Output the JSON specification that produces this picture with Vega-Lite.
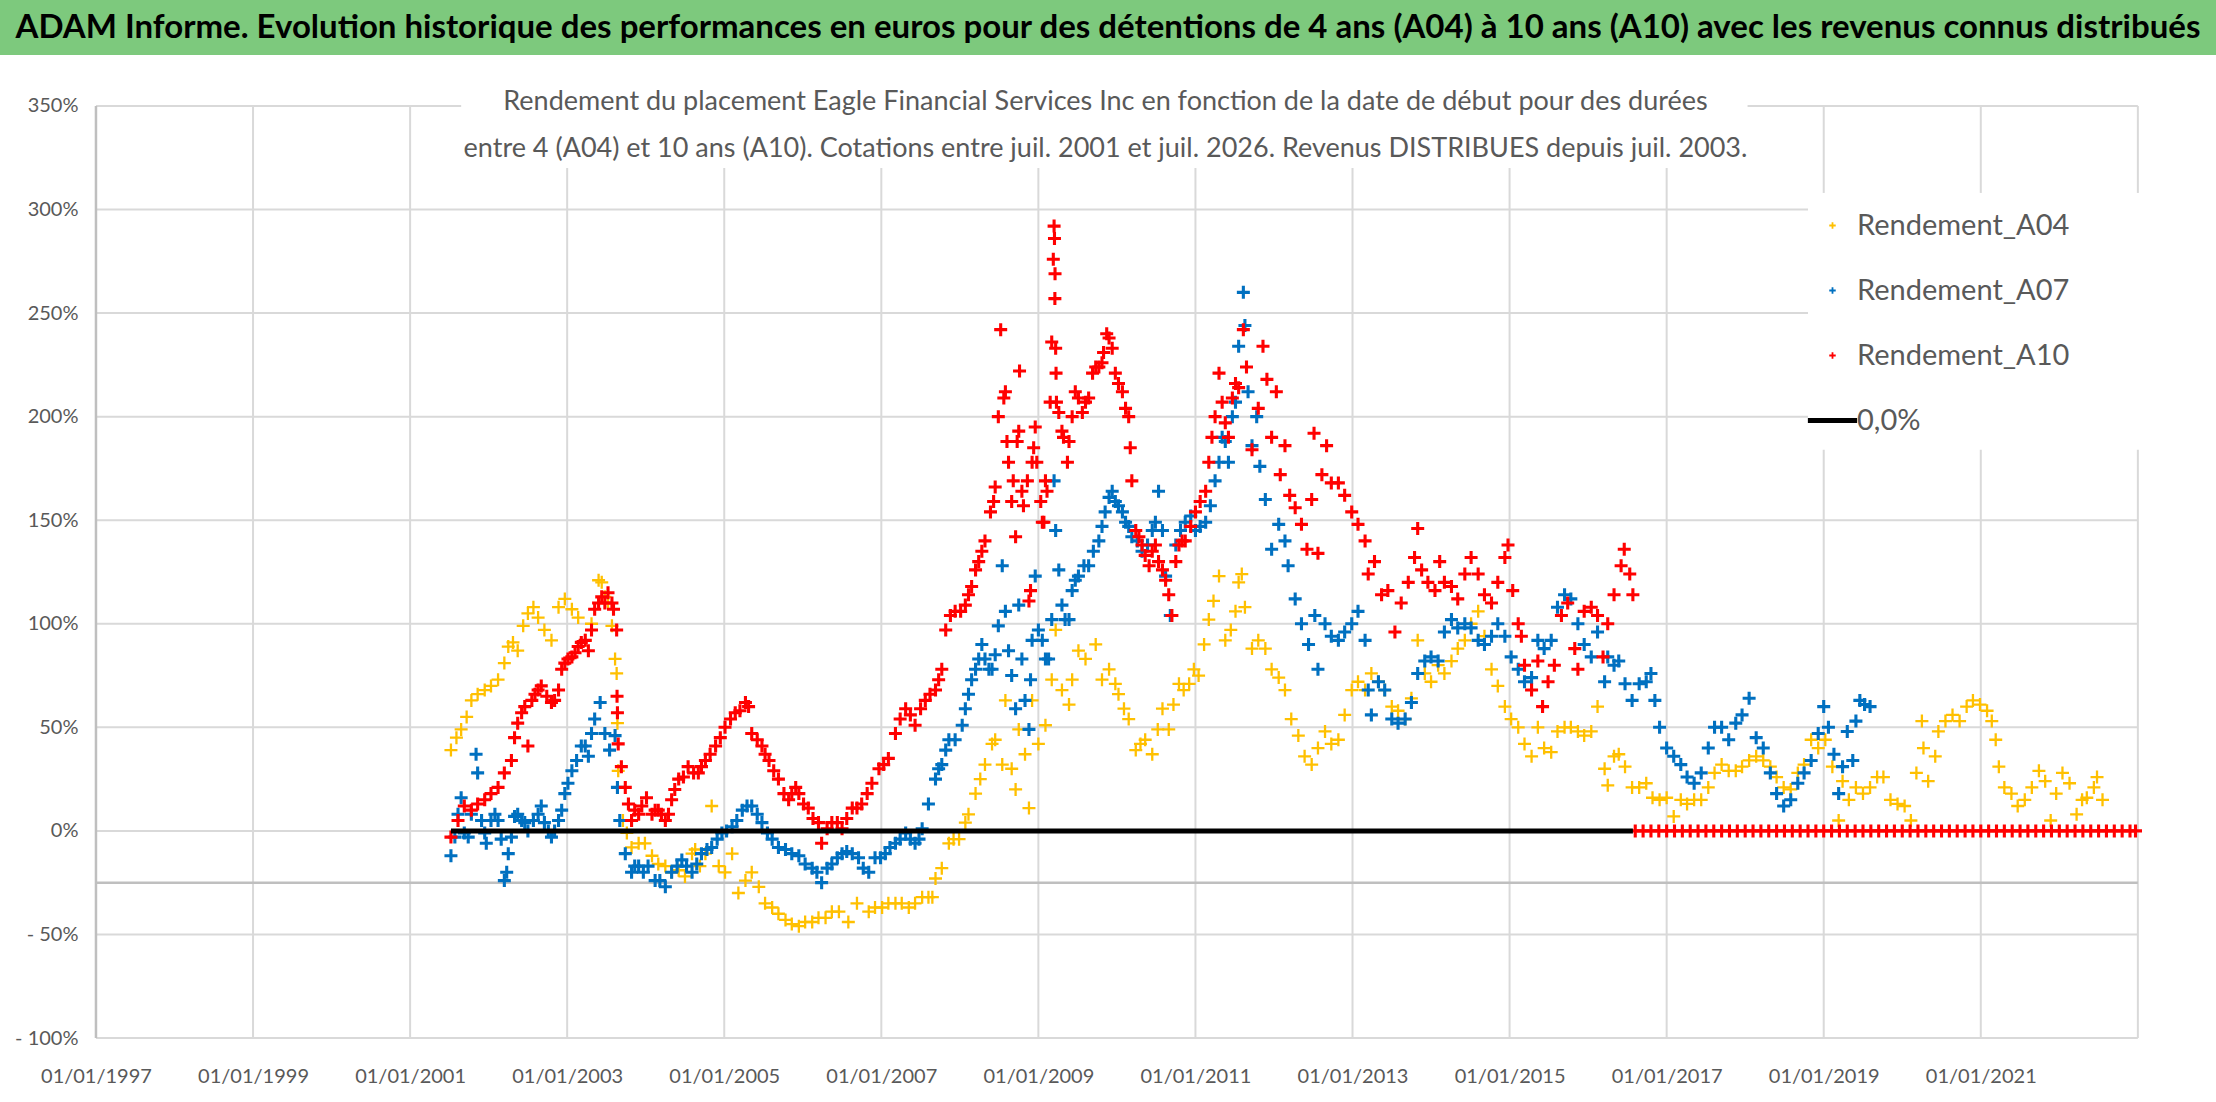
{
  "$schema": "https://vega.github.io/schema/vega-lite/v6.json",
  "background": "white",
  "padding": 0,
  "spacing": 0,
  "config": {"font": "Lato", "view": {"stroke": null}},
  "datasets": {
    "grille_h": [
      {"annee": 1997, "annee2": 2023, "rendement": -100}, {"annee": 1997, "annee2": 2023, "rendement": -50},
      {"annee": 1997, "annee2": 2023, "rendement": 0}, {"annee": 1997, "annee2": 2023, "rendement": 50},
      {"annee": 1997, "annee2": 2023, "rendement": 100}, {"annee": 1997, "annee2": 2023, "rendement": 150},
      {"annee": 1997, "annee2": 2018.8, "rendement": 200}, {"annee": 1997, "annee2": 2018.8, "rendement": 250},
      {"annee": 1997, "annee2": 2018.8, "rendement": 300},
      {"annee": 1997, "annee2": 2001.65, "rendement": 350}, {"annee": 2018.03, "annee2": 2023, "rendement": 350}
    ],
    "grille_v": [
      {"annee": 1999, "rendement": -100, "rendement2": 350}, {"annee": 2001, "rendement": -100, "rendement2": 350},
      {"annee": 2003, "rendement": -100, "rendement2": 320}, {"annee": 2005, "rendement": -100, "rendement2": 320},
      {"annee": 2007, "rendement": -100, "rendement2": 320}, {"annee": 2009, "rendement": -100, "rendement2": 320},
      {"annee": 2011, "rendement": -100, "rendement2": 320}, {"annee": 2013, "rendement": -100, "rendement2": 320},
      {"annee": 2015, "rendement": -100, "rendement2": 320}, {"annee": 2017, "rendement": -100, "rendement2": 320},
      {"annee": 2019, "rendement": -100, "rendement2": 184}, {"annee": 2019, "rendement": 308, "rendement2": 350},
      {"annee": 2021, "rendement": -100, "rendement2": 184}, {"annee": 2021, "rendement": 308, "rendement2": 350},
      {"annee": 2023, "rendement": -100, "rendement2": 184}, {"annee": 2023, "rendement": 308, "rendement2": 350}
    ],
    "axe_v": [{"annee": 1997, "rendement": -100, "rendement2": 350}],
    "axe_h": [{"annee": 1997, "annee2": 2023, "rendement": -25}],
    "zero": [{"annee": 2001.52, "rendement": 0}, {"annee": 2016.57, "rendement": 0}],
    "a04": [
      {"annee": 2001.52, "rendement": 39}, {"annee": 2001.59, "rendement": 45}, {"annee": 2001.65, "rendement": 49}, {"annee": 2001.72, "rendement": 55},
      {"annee": 2001.78, "rendement": 63}, {"annee": 2001.86, "rendement": 66}, {"annee": 2001.95, "rendement": 68}, {"annee": 2002.03, "rendement": 70},
      {"annee": 2002.12, "rendement": 73}, {"annee": 2002.2, "rendement": 81}, {"annee": 2002.25, "rendement": 89}, {"annee": 2002.31, "rendement": 91},
      {"annee": 2002.37, "rendement": 87}, {"annee": 2002.44, "rendement": 99}, {"annee": 2002.5, "rendement": 105}, {"annee": 2002.57, "rendement": 108},
      {"annee": 2002.63, "rendement": 103}, {"annee": 2002.71, "rendement": 97}, {"annee": 2002.8, "rendement": 92}, {"annee": 2002.89, "rendement": 108},
      {"annee": 2002.97, "rendement": 112}, {"annee": 2003.06, "rendement": 107}, {"annee": 2003.14, "rendement": 103}, {"annee": 2003.23, "rendement": 92},
      {"annee": 2003.31, "rendement": 100}, {"annee": 2003.4, "rendement": 121}, {"annee": 2003.44, "rendement": 120}, {"annee": 2003.48, "rendement": 113},
      {"annee": 2003.52, "rendement": 110}, {"annee": 2003.57, "rendement": 99}, {"annee": 2003.61, "rendement": 83}, {"annee": 2003.63, "rendement": 76},
      {"annee": 2003.64, "rendement": 52}, {"annee": 2003.65, "rendement": 29}, {"annee": 2003.71, "rendement": 5}, {"annee": 2003.76, "rendement": -1},
      {"annee": 2003.82, "rendement": -8}, {"annee": 2003.91, "rendement": -6}, {"annee": 2003.99, "rendement": -6}, {"annee": 2004.08, "rendement": -12},
      {"annee": 2004.16, "rendement": -16}, {"annee": 2004.25, "rendement": -17}, {"annee": 2004.33, "rendement": -20}, {"annee": 2004.42, "rendement": -19},
      {"annee": 2004.5, "rendement": -22}, {"annee": 2004.59, "rendement": -11}, {"annee": 2004.63, "rendement": -9}, {"annee": 2004.69, "rendement": -17},
      {"annee": 2004.76, "rendement": -11}, {"annee": 2004.84, "rendement": 12}, {"annee": 2004.93, "rendement": -17}, {"annee": 2005.01, "rendement": -20},
      {"annee": 2005.1, "rendement": -11}, {"annee": 2005.18, "rendement": -30}, {"annee": 2005.27, "rendement": -24}, {"annee": 2005.35, "rendement": -20},
      {"annee": 2005.44, "rendement": -27}, {"annee": 2005.52, "rendement": -35}, {"annee": 2005.61, "rendement": -37}, {"annee": 2005.69, "rendement": -40},
      {"annee": 2005.78, "rendement": -43}, {"annee": 2005.86, "rendement": -45}, {"annee": 2005.95, "rendement": -46}, {"annee": 2006.03, "rendement": -44},
      {"annee": 2006.12, "rendement": -44}, {"annee": 2006.2, "rendement": -42}, {"annee": 2006.29, "rendement": -42}, {"annee": 2006.37, "rendement": -39},
      {"annee": 2006.46, "rendement": -39}, {"annee": 2006.58, "rendement": -44}, {"annee": 2006.69, "rendement": -35}, {"annee": 2006.84, "rendement": -39},
      {"annee": 2006.92, "rendement": -37}, {"annee": 2007.01, "rendement": -37}, {"annee": 2007.09, "rendement": -35}, {"annee": 2007.18, "rendement": -35},
      {"annee": 2007.26, "rendement": -35}, {"annee": 2007.35, "rendement": -37}, {"annee": 2007.43, "rendement": -35}, {"annee": 2007.52, "rendement": -32},
      {"annee": 2007.6, "rendement": -32}, {"annee": 2007.65, "rendement": -32}, {"annee": 2007.69, "rendement": -23}, {"annee": 2007.77, "rendement": -18},
      {"annee": 2007.86, "rendement": -6}, {"annee": 2007.92, "rendement": -4}, {"annee": 2007.99, "rendement": -4}, {"annee": 2008.07, "rendement": 4},
      {"annee": 2008.11, "rendement": 8}, {"annee": 2008.2, "rendement": 18}, {"annee": 2008.26, "rendement": 25}, {"annee": 2008.32, "rendement": 32},
      {"annee": 2008.41, "rendement": 42}, {"annee": 2008.45, "rendement": 44}, {"annee": 2008.54, "rendement": 32}, {"annee": 2008.58, "rendement": 63},
      {"annee": 2008.66, "rendement": 30}, {"annee": 2008.71, "rendement": 20}, {"annee": 2008.75, "rendement": 49}, {"annee": 2008.83, "rendement": 37},
      {"annee": 2008.88, "rendement": 11}, {"annee": 2008.92, "rendement": 63}, {"annee": 2009.0, "rendement": 42}, {"annee": 2009.09, "rendement": 51},
      {"annee": 2009.17, "rendement": 73}, {"annee": 2009.22, "rendement": 97}, {"annee": 2009.3, "rendement": 68}, {"annee": 2009.39, "rendement": 61},
      {"annee": 2009.43, "rendement": 73}, {"annee": 2009.51, "rendement": 87}, {"annee": 2009.6, "rendement": 83}, {"annee": 2009.73, "rendement": 90},
      {"annee": 2009.81, "rendement": 73}, {"annee": 2009.9, "rendement": 78}, {"annee": 2009.98, "rendement": 71}, {"annee": 2010.02, "rendement": 66},
      {"annee": 2010.09, "rendement": 59}, {"annee": 2010.15, "rendement": 54}, {"annee": 2010.24, "rendement": 39}, {"annee": 2010.3, "rendement": 42},
      {"annee": 2010.36, "rendement": 44}, {"annee": 2010.45, "rendement": 37}, {"annee": 2010.52, "rendement": 49}, {"annee": 2010.58, "rendement": 59},
      {"annee": 2010.66, "rendement": 49}, {"annee": 2010.72, "rendement": 61}, {"annee": 2010.79, "rendement": 71}, {"annee": 2010.85, "rendement": 68},
      {"annee": 2010.92, "rendement": 71}, {"annee": 2010.98, "rendement": 78}, {"annee": 2011.04, "rendement": 75}, {"annee": 2011.11, "rendement": 90},
      {"annee": 2011.17, "rendement": 102}, {"annee": 2011.23, "rendement": 111}, {"annee": 2011.3, "rendement": 123}, {"annee": 2011.38, "rendement": 92},
      {"annee": 2011.45, "rendement": 97}, {"annee": 2011.51, "rendement": 106}, {"annee": 2011.55, "rendement": 120}, {"annee": 2011.59, "rendement": 124},
      {"annee": 2011.63, "rendement": 108}, {"annee": 2011.72, "rendement": 88}, {"annee": 2011.8, "rendement": 92}, {"annee": 2011.89, "rendement": 88},
      {"annee": 2011.97, "rendement": 78}, {"annee": 2012.06, "rendement": 74}, {"annee": 2012.14, "rendement": 68}, {"annee": 2012.22, "rendement": 54},
      {"annee": 2012.31, "rendement": 46}, {"annee": 2012.39, "rendement": 36}, {"annee": 2012.48, "rendement": 32}, {"annee": 2012.56, "rendement": 40},
      {"annee": 2012.65, "rendement": 48}, {"annee": 2012.73, "rendement": 42}, {"annee": 2012.82, "rendement": 44}, {"annee": 2012.9, "rendement": 56},
      {"annee": 2012.99, "rendement": 68}, {"annee": 2013.07, "rendement": 72}, {"annee": 2013.16, "rendement": 68}, {"annee": 2013.24, "rendement": 76},
      {"annee": 2013.33, "rendement": 72}, {"annee": 2013.41, "rendement": 68}, {"annee": 2013.5, "rendement": 60}, {"annee": 2013.58, "rendement": 58},
      {"annee": 2013.67, "rendement": 54}, {"annee": 2013.75, "rendement": 64}, {"annee": 2013.83, "rendement": 92}, {"annee": 2013.92, "rendement": 76},
      {"annee": 2014.0, "rendement": 72}, {"annee": 2014.09, "rendement": 80}, {"annee": 2014.17, "rendement": 76}, {"annee": 2014.26, "rendement": 82},
      {"annee": 2014.34, "rendement": 88}, {"annee": 2014.43, "rendement": 92}, {"annee": 2014.51, "rendement": 100}, {"annee": 2014.6, "rendement": 106},
      {"annee": 2014.68, "rendement": 94}, {"annee": 2014.77, "rendement": 78}, {"annee": 2014.85, "rendement": 70}, {"annee": 2014.94, "rendement": 60},
      {"annee": 2015.02, "rendement": 54}, {"annee": 2015.11, "rendement": 50}, {"annee": 2015.19, "rendement": 42}, {"annee": 2015.28, "rendement": 36},
      {"annee": 2015.36, "rendement": 50}, {"annee": 2015.44, "rendement": 40}, {"annee": 2015.53, "rendement": 38}, {"annee": 2015.61, "rendement": 48},
      {"annee": 2015.7, "rendement": 50}, {"annee": 2015.78, "rendement": 50}, {"annee": 2015.87, "rendement": 48}, {"annee": 2015.95, "rendement": 46},
      {"annee": 2016.04, "rendement": 48}, {"annee": 2016.12, "rendement": 60}, {"annee": 2016.21, "rendement": 30}, {"annee": 2016.25, "rendement": 22},
      {"annee": 2016.33, "rendement": 36}, {"annee": 2016.39, "rendement": 37}, {"annee": 2016.47, "rendement": 31}, {"annee": 2016.56, "rendement": 21},
      {"annee": 2016.65, "rendement": 21}, {"annee": 2016.74, "rendement": 23}, {"annee": 2016.82, "rendement": 16}, {"annee": 2016.91, "rendement": 15},
      {"annee": 2017.0, "rendement": 16}, {"annee": 2017.09, "rendement": 7}, {"annee": 2017.18, "rendement": 15}, {"annee": 2017.26, "rendement": 13},
      {"annee": 2017.35, "rendement": 15}, {"annee": 2017.44, "rendement": 15}, {"annee": 2017.53, "rendement": 21}, {"annee": 2017.61, "rendement": 28},
      {"annee": 2017.7, "rendement": 32}, {"annee": 2017.79, "rendement": 29}, {"annee": 2017.88, "rendement": 29}, {"annee": 2017.96, "rendement": 31},
      {"annee": 2018.05, "rendement": 34}, {"annee": 2018.14, "rendement": 36}, {"annee": 2018.23, "rendement": 34}, {"annee": 2018.32, "rendement": 31},
      {"annee": 2018.4, "rendement": 26}, {"annee": 2018.49, "rendement": 21}, {"annee": 2018.58, "rendement": 20}, {"annee": 2018.67, "rendement": 28},
      {"annee": 2018.75, "rendement": 32}, {"annee": 2018.84, "rendement": 44}, {"annee": 2018.93, "rendement": 40}, {"annee": 2019.02, "rendement": 44},
      {"annee": 2019.11, "rendement": 31}, {"annee": 2019.19, "rendement": 5}, {"annee": 2019.24, "rendement": 24}, {"annee": 2019.32, "rendement": 15},
      {"annee": 2019.41, "rendement": 21}, {"annee": 2019.5, "rendement": 18}, {"annee": 2019.59, "rendement": 21}, {"annee": 2019.68, "rendement": 26},
      {"annee": 2019.76, "rendement": 26}, {"annee": 2019.85, "rendement": 15}, {"annee": 2019.94, "rendement": 13}, {"annee": 2020.03, "rendement": 12},
      {"annee": 2020.11, "rendement": 5}, {"annee": 2020.18, "rendement": 28}, {"annee": 2020.25, "rendement": 53}, {"annee": 2020.27, "rendement": 40},
      {"annee": 2020.33, "rendement": 24}, {"annee": 2020.42, "rendement": 36}, {"annee": 2020.46, "rendement": 48}, {"annee": 2020.55, "rendement": 53},
      {"annee": 2020.64, "rendement": 56}, {"annee": 2020.73, "rendement": 53}, {"annee": 2020.82, "rendement": 60}, {"annee": 2020.9, "rendement": 63},
      {"annee": 2020.99, "rendement": 61}, {"annee": 2021.08, "rendement": 58}, {"annee": 2021.14, "rendement": 53}, {"annee": 2021.19, "rendement": 44},
      {"annee": 2021.23, "rendement": 31}, {"annee": 2021.3, "rendement": 21}, {"annee": 2021.39, "rendement": 18}, {"annee": 2021.47, "rendement": 12},
      {"annee": 2021.56, "rendement": 15}, {"annee": 2021.65, "rendement": 21}, {"annee": 2021.74, "rendement": 29}, {"annee": 2021.82, "rendement": 24},
      {"annee": 2021.89, "rendement": 5}, {"annee": 2021.96, "rendement": 18}, {"annee": 2022.04, "rendement": 28}, {"annee": 2022.13, "rendement": 23},
      {"annee": 2022.22, "rendement": 8}, {"annee": 2022.29, "rendement": 15}, {"annee": 2022.35, "rendement": 16}, {"annee": 2022.44, "rendement": 21},
      {"annee": 2022.48, "rendement": 26}, {"annee": 2022.55, "rendement": 15}
    ],
    "a07": [
      {"annee": 2001.52, "rendement": -12}, {"annee": 2001.57, "rendement": -3}, {"annee": 2001.61, "rendement": 8}, {"annee": 2001.65, "rendement": 16},
      {"annee": 2001.69, "rendement": -1}, {"annee": 2001.74, "rendement": -3}, {"annee": 2001.78, "rendement": 8}, {"annee": 2001.84, "rendement": 37},
      {"annee": 2001.86, "rendement": 28}, {"annee": 2001.91, "rendement": 5}, {"annee": 2001.95, "rendement": -1}, {"annee": 2001.97, "rendement": -6},
      {"annee": 2002.03, "rendement": 5}, {"annee": 2002.08, "rendement": 8}, {"annee": 2002.12, "rendement": 5}, {"annee": 2002.16, "rendement": -4},
      {"annee": 2002.2, "rendement": -24}, {"annee": 2002.23, "rendement": -20}, {"annee": 2002.25, "rendement": -11}, {"annee": 2002.29, "rendement": -3},
      {"annee": 2002.33, "rendement": 7}, {"annee": 2002.37, "rendement": 8}, {"annee": 2002.42, "rendement": 5}, {"annee": 2002.46, "rendement": 4},
      {"annee": 2002.5, "rendement": 0}, {"annee": 2002.57, "rendement": 5}, {"annee": 2002.63, "rendement": 8}, {"annee": 2002.67, "rendement": 12},
      {"annee": 2002.71, "rendement": 4}, {"annee": 2002.76, "rendement": 0}, {"annee": 2002.8, "rendement": -3}, {"annee": 2002.84, "rendement": 0},
      {"annee": 2002.89, "rendement": 5}, {"annee": 2002.93, "rendement": 10}, {"annee": 2002.97, "rendement": 18}, {"annee": 2003.01, "rendement": 23},
      {"annee": 2003.06, "rendement": 29}, {"annee": 2003.12, "rendement": 34}, {"annee": 2003.18, "rendement": 41}, {"annee": 2003.23, "rendement": 41},
      {"annee": 2003.27, "rendement": 36}, {"annee": 2003.31, "rendement": 47}, {"annee": 2003.35, "rendement": 54}, {"annee": 2003.42, "rendement": 62},
      {"annee": 2003.48, "rendement": 47}, {"annee": 2003.54, "rendement": 39}, {"annee": 2003.61, "rendement": 46}, {"annee": 2003.64, "rendement": 21},
      {"annee": 2003.67, "rendement": 5}, {"annee": 2003.74, "rendement": -11}, {"annee": 2003.82, "rendement": -20}, {"annee": 2003.86, "rendement": -17},
      {"annee": 2003.91, "rendement": -17}, {"annee": 2003.97, "rendement": -20}, {"annee": 2004.03, "rendement": -17}, {"annee": 2004.12, "rendement": -24},
      {"annee": 2004.18, "rendement": -24}, {"annee": 2004.25, "rendement": -27}, {"annee": 2004.33, "rendement": -20}, {"annee": 2004.4, "rendement": -17},
      {"annee": 2004.46, "rendement": -14}, {"annee": 2004.52, "rendement": -17}, {"annee": 2004.59, "rendement": -20}, {"annee": 2004.65, "rendement": -16},
      {"annee": 2004.71, "rendement": -11}, {"annee": 2004.78, "rendement": -9}, {"annee": 2004.84, "rendement": -8}, {"annee": 2004.91, "rendement": -4},
      {"annee": 2004.97, "rendement": -1}, {"annee": 2005.03, "rendement": 0}, {"annee": 2005.1, "rendement": 2}, {"annee": 2005.16, "rendement": 5},
      {"annee": 2005.23, "rendement": 10}, {"annee": 2005.29, "rendement": 12}, {"annee": 2005.35, "rendement": 12}, {"annee": 2005.42, "rendement": 8},
      {"annee": 2005.48, "rendement": 4}, {"annee": 2005.55, "rendement": -1}, {"annee": 2005.61, "rendement": -4}, {"annee": 2005.69, "rendement": -8},
      {"annee": 2005.78, "rendement": -9}, {"annee": 2005.86, "rendement": -11}, {"annee": 2005.95, "rendement": -12}, {"annee": 2006.03, "rendement": -16},
      {"annee": 2006.12, "rendement": -18}, {"annee": 2006.18, "rendement": -20}, {"annee": 2006.24, "rendement": -25}, {"annee": 2006.31, "rendement": -18},
      {"annee": 2006.37, "rendement": -16}, {"annee": 2006.44, "rendement": -13}, {"annee": 2006.5, "rendement": -11}, {"annee": 2006.56, "rendement": -10},
      {"annee": 2006.63, "rendement": -11}, {"annee": 2006.71, "rendement": -13}, {"annee": 2006.77, "rendement": -18}, {"annee": 2006.84, "rendement": -20},
      {"annee": 2006.92, "rendement": -13}, {"annee": 2006.99, "rendement": -13}, {"annee": 2007.05, "rendement": -11}, {"annee": 2007.11, "rendement": -8},
      {"annee": 2007.18, "rendement": -6}, {"annee": 2007.24, "rendement": -4}, {"annee": 2007.31, "rendement": -1}, {"annee": 2007.37, "rendement": -4},
      {"annee": 2007.43, "rendement": -6}, {"annee": 2007.48, "rendement": -4}, {"annee": 2007.52, "rendement": 1}, {"annee": 2007.6, "rendement": 13},
      {"annee": 2007.69, "rendement": 25}, {"annee": 2007.73, "rendement": 30}, {"annee": 2007.77, "rendement": 32}, {"annee": 2007.82, "rendement": 39},
      {"annee": 2007.86, "rendement": 44}, {"annee": 2007.94, "rendement": 44}, {"annee": 2008.03, "rendement": 51}, {"annee": 2008.07, "rendement": 59},
      {"annee": 2008.11, "rendement": 66}, {"annee": 2008.15, "rendement": 73}, {"annee": 2008.2, "rendement": 78}, {"annee": 2008.24, "rendement": 83},
      {"annee": 2008.28, "rendement": 90}, {"annee": 2008.32, "rendement": 83}, {"annee": 2008.37, "rendement": 78}, {"annee": 2008.41, "rendement": 78},
      {"annee": 2008.45, "rendement": 85}, {"annee": 2008.49, "rendement": 99}, {"annee": 2008.54, "rendement": 128}, {"annee": 2008.58, "rendement": 106},
      {"annee": 2008.62, "rendement": 87}, {"annee": 2008.66, "rendement": 75}, {"annee": 2008.71, "rendement": 59}, {"annee": 2008.75, "rendement": 109},
      {"annee": 2008.79, "rendement": 83}, {"annee": 2008.83, "rendement": 63}, {"annee": 2008.88, "rendement": 49}, {"annee": 2008.9, "rendement": 73},
      {"annee": 2008.92, "rendement": 92}, {"annee": 2008.96, "rendement": 123}, {"annee": 2009.0, "rendement": 97}, {"annee": 2009.05, "rendement": 92},
      {"annee": 2009.09, "rendement": 83}, {"annee": 2009.13, "rendement": 83}, {"annee": 2009.17, "rendement": 102}, {"annee": 2009.2, "rendement": 169},
      {"annee": 2009.22, "rendement": 145}, {"annee": 2009.26, "rendement": 126}, {"annee": 2009.3, "rendement": 109}, {"annee": 2009.34, "rendement": 102},
      {"annee": 2009.39, "rendement": 102}, {"annee": 2009.43, "rendement": 116}, {"annee": 2009.47, "rendement": 121}, {"annee": 2009.51, "rendement": 123},
      {"annee": 2009.58, "rendement": 128}, {"annee": 2009.64, "rendement": 128}, {"annee": 2009.7, "rendement": 135}, {"annee": 2009.77, "rendement": 140},
      {"annee": 2009.81, "rendement": 147}, {"annee": 2009.85, "rendement": 154}, {"annee": 2009.9, "rendement": 161}, {"annee": 2009.94, "rendement": 164},
      {"annee": 2009.98, "rendement": 159}, {"annee": 2010.02, "rendement": 157}, {"annee": 2010.07, "rendement": 154}, {"annee": 2010.11, "rendement": 149},
      {"annee": 2010.15, "rendement": 147}, {"annee": 2010.19, "rendement": 142}, {"annee": 2010.26, "rendement": 140}, {"annee": 2010.32, "rendement": 135},
      {"annee": 2010.39, "rendement": 138}, {"annee": 2010.45, "rendement": 145}, {"annee": 2010.49, "rendement": 149}, {"annee": 2010.53, "rendement": 164},
      {"annee": 2010.58, "rendement": 145}, {"annee": 2010.62, "rendement": 123}, {"annee": 2010.68, "rendement": 104}, {"annee": 2010.75, "rendement": 138},
      {"annee": 2010.81, "rendement": 145}, {"annee": 2010.87, "rendement": 149}, {"annee": 2010.94, "rendement": 152}, {"annee": 2011.0, "rendement": 145},
      {"annee": 2011.06, "rendement": 147}, {"annee": 2011.13, "rendement": 149}, {"annee": 2011.19, "rendement": 157}, {"annee": 2011.25, "rendement": 169},
      {"annee": 2011.3, "rendement": 178}, {"annee": 2011.34, "rendement": 190}, {"annee": 2011.38, "rendement": 188}, {"annee": 2011.42, "rendement": 178},
      {"annee": 2011.47, "rendement": 200}, {"annee": 2011.51, "rendement": 207}, {"annee": 2011.55, "rendement": 234}, {"annee": 2011.61, "rendement": 260},
      {"annee": 2011.63, "rendement": 244}, {"annee": 2011.67, "rendement": 212}, {"annee": 2011.72, "rendement": 186}, {"annee": 2011.78, "rendement": 200},
      {"annee": 2011.82, "rendement": 176}, {"annee": 2011.89, "rendement": 160}, {"annee": 2011.97, "rendement": 136}, {"annee": 2012.06, "rendement": 148},
      {"annee": 2012.14, "rendement": 140}, {"annee": 2012.18, "rendement": 128}, {"annee": 2012.27, "rendement": 112}, {"annee": 2012.35, "rendement": 100},
      {"annee": 2012.44, "rendement": 90}, {"annee": 2012.52, "rendement": 104}, {"annee": 2012.56, "rendement": 78}, {"annee": 2012.65, "rendement": 100},
      {"annee": 2012.73, "rendement": 94}, {"annee": 2012.82, "rendement": 92}, {"annee": 2012.9, "rendement": 96}, {"annee": 2012.99, "rendement": 100},
      {"annee": 2013.07, "rendement": 106}, {"annee": 2013.16, "rendement": 92}, {"annee": 2013.2, "rendement": 68}, {"annee": 2013.24, "rendement": 56},
      {"annee": 2013.33, "rendement": 72}, {"annee": 2013.41, "rendement": 68}, {"annee": 2013.5, "rendement": 54}, {"annee": 2013.58, "rendement": 52},
      {"annee": 2013.67, "rendement": 54}, {"annee": 2013.75, "rendement": 62}, {"annee": 2013.83, "rendement": 76}, {"annee": 2013.92, "rendement": 82},
      {"annee": 2014.0, "rendement": 84}, {"annee": 2014.09, "rendement": 82}, {"annee": 2014.17, "rendement": 96}, {"annee": 2014.26, "rendement": 102},
      {"annee": 2014.34, "rendement": 98}, {"annee": 2014.43, "rendement": 100}, {"annee": 2014.51, "rendement": 98}, {"annee": 2014.6, "rendement": 92},
      {"annee": 2014.68, "rendement": 90}, {"annee": 2014.77, "rendement": 94}, {"annee": 2014.85, "rendement": 100}, {"annee": 2014.94, "rendement": 94},
      {"annee": 2015.02, "rendement": 84}, {"annee": 2015.11, "rendement": 78}, {"annee": 2015.19, "rendement": 72}, {"annee": 2015.28, "rendement": 74},
      {"annee": 2015.36, "rendement": 92}, {"annee": 2015.44, "rendement": 88}, {"annee": 2015.53, "rendement": 92}, {"annee": 2015.61, "rendement": 108},
      {"annee": 2015.7, "rendement": 114}, {"annee": 2015.78, "rendement": 112}, {"annee": 2015.87, "rendement": 100}, {"annee": 2015.95, "rendement": 90},
      {"annee": 2016.04, "rendement": 84}, {"annee": 2016.12, "rendement": 96}, {"annee": 2016.21, "rendement": 72}, {"annee": 2016.25, "rendement": 84},
      {"annee": 2016.33, "rendement": 80}, {"annee": 2016.39, "rendement": 82}, {"annee": 2016.47, "rendement": 71}, {"annee": 2016.56, "rendement": 63},
      {"annee": 2016.65, "rendement": 71}, {"annee": 2016.74, "rendement": 72}, {"annee": 2016.8, "rendement": 76}, {"annee": 2016.85, "rendement": 63},
      {"annee": 2016.91, "rendement": 50}, {"annee": 2017.0, "rendement": 40}, {"annee": 2017.09, "rendement": 36}, {"annee": 2017.18, "rendement": 32},
      {"annee": 2017.26, "rendement": 26}, {"annee": 2017.35, "rendement": 23}, {"annee": 2017.44, "rendement": 28}, {"annee": 2017.53, "rendement": 40},
      {"annee": 2017.61, "rendement": 50}, {"annee": 2017.7, "rendement": 50}, {"annee": 2017.79, "rendement": 44}, {"annee": 2017.88, "rendement": 52},
      {"annee": 2017.96, "rendement": 56}, {"annee": 2018.05, "rendement": 64}, {"annee": 2018.14, "rendement": 45}, {"annee": 2018.23, "rendement": 40},
      {"annee": 2018.32, "rendement": 28}, {"annee": 2018.4, "rendement": 18}, {"annee": 2018.49, "rendement": 12}, {"annee": 2018.58, "rendement": 15},
      {"annee": 2018.67, "rendement": 23}, {"annee": 2018.75, "rendement": 28}, {"annee": 2018.84, "rendement": 34}, {"annee": 2018.93, "rendement": 47},
      {"annee": 2019.0, "rendement": 60}, {"annee": 2019.06, "rendement": 50}, {"annee": 2019.13, "rendement": 37}, {"annee": 2019.19, "rendement": 18},
      {"annee": 2019.24, "rendement": 31}, {"annee": 2019.3, "rendement": 48}, {"annee": 2019.37, "rendement": 34}, {"annee": 2019.41, "rendement": 53},
      {"annee": 2019.46, "rendement": 63}, {"annee": 2019.52, "rendement": 61}, {"annee": 2019.59, "rendement": 60}
    ],
    "a10": [
      {"annee": 2001.52, "rendement": -3}, {"annee": 2001.61, "rendement": 5}, {"annee": 2001.69, "rendement": 12}, {"annee": 2001.78, "rendement": 10},
      {"annee": 2001.86, "rendement": 13}, {"annee": 2001.95, "rendement": 15}, {"annee": 2002.03, "rendement": 18}, {"annee": 2002.12, "rendement": 21},
      {"annee": 2002.2, "rendement": 28}, {"annee": 2002.29, "rendement": 34}, {"annee": 2002.33, "rendement": 45}, {"annee": 2002.37, "rendement": 52},
      {"annee": 2002.42, "rendement": 57}, {"annee": 2002.46, "rendement": 60}, {"annee": 2002.5, "rendement": 41}, {"annee": 2002.55, "rendement": 63},
      {"annee": 2002.59, "rendement": 66}, {"annee": 2002.63, "rendement": 68}, {"annee": 2002.67, "rendement": 70}, {"annee": 2002.74, "rendement": 65},
      {"annee": 2002.8, "rendement": 62}, {"annee": 2002.84, "rendement": 63}, {"annee": 2002.89, "rendement": 68}, {"annee": 2002.93, "rendement": 78},
      {"annee": 2002.97, "rendement": 81}, {"annee": 2003.01, "rendement": 83}, {"annee": 2003.06, "rendement": 84}, {"annee": 2003.1, "rendement": 86},
      {"annee": 2003.14, "rendement": 89}, {"annee": 2003.18, "rendement": 91}, {"annee": 2003.23, "rendement": 92}, {"annee": 2003.27, "rendement": 87},
      {"annee": 2003.31, "rendement": 97}, {"annee": 2003.35, "rendement": 107}, {"annee": 2003.4, "rendement": 110}, {"annee": 2003.44, "rendement": 113},
      {"annee": 2003.48, "rendement": 110}, {"annee": 2003.52, "rendement": 115}, {"annee": 2003.57, "rendement": 110}, {"annee": 2003.59, "rendement": 107},
      {"annee": 2003.63, "rendement": 97}, {"annee": 2003.635, "rendement": 65}, {"annee": 2003.64, "rendement": 57}, {"annee": 2003.65, "rendement": 42},
      {"annee": 2003.69, "rendement": 31}, {"annee": 2003.74, "rendement": 21}, {"annee": 2003.78, "rendement": 13}, {"annee": 2003.82, "rendement": 5},
      {"annee": 2003.86, "rendement": 10}, {"annee": 2003.91, "rendement": 8}, {"annee": 2003.95, "rendement": 12}, {"annee": 2004.01, "rendement": 16},
      {"annee": 2004.08, "rendement": 8}, {"annee": 2004.12, "rendement": 10}, {"annee": 2004.16, "rendement": 10}, {"annee": 2004.2, "rendement": 8},
      {"annee": 2004.25, "rendement": 5}, {"annee": 2004.29, "rendement": 8}, {"annee": 2004.33, "rendement": 15}, {"annee": 2004.37, "rendement": 20},
      {"annee": 2004.42, "rendement": 25}, {"annee": 2004.48, "rendement": 26}, {"annee": 2004.54, "rendement": 31}, {"annee": 2004.61, "rendement": 28},
      {"annee": 2004.67, "rendement": 28}, {"annee": 2004.71, "rendement": 31}, {"annee": 2004.76, "rendement": 34}, {"annee": 2004.82, "rendement": 37},
      {"annee": 2004.89, "rendement": 41}, {"annee": 2004.95, "rendement": 45}, {"annee": 2005.01, "rendement": 50}, {"annee": 2005.08, "rendement": 54},
      {"annee": 2005.14, "rendement": 57}, {"annee": 2005.2, "rendement": 58}, {"annee": 2005.27, "rendement": 62}, {"annee": 2005.31, "rendement": 60},
      {"annee": 2005.35, "rendement": 47}, {"annee": 2005.42, "rendement": 44}, {"annee": 2005.48, "rendement": 41}, {"annee": 2005.52, "rendement": 37},
      {"annee": 2005.57, "rendement": 34}, {"annee": 2005.63, "rendement": 29}, {"annee": 2005.69, "rendement": 25}, {"annee": 2005.76, "rendement": 18},
      {"annee": 2005.82, "rendement": 15}, {"annee": 2005.86, "rendement": 18}, {"annee": 2005.91, "rendement": 21}, {"annee": 2005.95, "rendement": 18},
      {"annee": 2006.01, "rendement": 13}, {"annee": 2006.07, "rendement": 11}, {"annee": 2006.13, "rendement": 6}, {"annee": 2006.2, "rendement": 4},
      {"annee": 2006.24, "rendement": -6}, {"annee": 2006.31, "rendement": 1}, {"annee": 2006.37, "rendement": 4}, {"annee": 2006.44, "rendement": 4},
      {"annee": 2006.5, "rendement": 1}, {"annee": 2006.56, "rendement": 6}, {"annee": 2006.63, "rendement": 11}, {"annee": 2006.69, "rendement": 11},
      {"annee": 2006.75, "rendement": 13}, {"annee": 2006.82, "rendement": 18}, {"annee": 2006.88, "rendement": 23}, {"annee": 2006.97, "rendement": 30},
      {"annee": 2007.03, "rendement": 32}, {"annee": 2007.09, "rendement": 35}, {"annee": 2007.18, "rendement": 47}, {"annee": 2007.24, "rendement": 54},
      {"annee": 2007.31, "rendement": 59}, {"annee": 2007.37, "rendement": 56}, {"annee": 2007.43, "rendement": 51}, {"annee": 2007.5, "rendement": 59},
      {"annee": 2007.56, "rendement": 63}, {"annee": 2007.62, "rendement": 66}, {"annee": 2007.69, "rendement": 68}, {"annee": 2007.73, "rendement": 73},
      {"annee": 2007.77, "rendement": 78}, {"annee": 2007.82, "rendement": 97}, {"annee": 2007.88, "rendement": 104}, {"annee": 2007.94, "rendement": 106},
      {"annee": 2008.01, "rendement": 106}, {"annee": 2008.07, "rendement": 109}, {"annee": 2008.11, "rendement": 114}, {"annee": 2008.15, "rendement": 118},
      {"annee": 2008.2, "rendement": 126}, {"annee": 2008.24, "rendement": 130}, {"annee": 2008.28, "rendement": 135}, {"annee": 2008.32, "rendement": 140},
      {"annee": 2008.39, "rendement": 154}, {"annee": 2008.43, "rendement": 159}, {"annee": 2008.45, "rendement": 166}, {"annee": 2008.49, "rendement": 200},
      {"annee": 2008.52, "rendement": 242}, {"annee": 2008.56, "rendement": 209}, {"annee": 2008.58, "rendement": 212}, {"annee": 2008.6, "rendement": 188},
      {"annee": 2008.62, "rendement": 178}, {"annee": 2008.66, "rendement": 159}, {"annee": 2008.68, "rendement": 169}, {"annee": 2008.71, "rendement": 142},
      {"annee": 2008.73, "rendement": 188}, {"annee": 2008.75, "rendement": 193}, {"annee": 2008.76, "rendement": 222}, {"annee": 2008.79, "rendement": 164},
      {"annee": 2008.81, "rendement": 157}, {"annee": 2008.86, "rendement": 169}, {"annee": 2008.88, "rendement": 111}, {"annee": 2008.9, "rendement": 116},
      {"annee": 2008.92, "rendement": 178}, {"annee": 2008.94, "rendement": 185}, {"annee": 2008.96, "rendement": 195}, {"annee": 2008.98, "rendement": 178},
      {"annee": 2009.03, "rendement": 159}, {"annee": 2009.05, "rendement": 149}, {"annee": 2009.07, "rendement": 149}, {"annee": 2009.09, "rendement": 169},
      {"annee": 2009.11, "rendement": 164}, {"annee": 2009.15, "rendement": 207}, {"annee": 2009.17, "rendement": 236}, {"annee": 2009.19, "rendement": 276},
      {"annee": 2009.2, "rendement": 292}, {"annee": 2009.205, "rendement": 286}, {"annee": 2009.21, "rendement": 257}, {"annee": 2009.212, "rendement": 269},
      {"annee": 2009.22, "rendement": 233}, {"annee": 2009.225, "rendement": 221}, {"annee": 2009.23, "rendement": 207}, {"annee": 2009.26, "rendement": 202},
      {"annee": 2009.3, "rendement": 193}, {"annee": 2009.32, "rendement": 190}, {"annee": 2009.37, "rendement": 178}, {"annee": 2009.39, "rendement": 188},
      {"annee": 2009.43, "rendement": 200}, {"annee": 2009.47, "rendement": 212}, {"annee": 2009.51, "rendement": 209}, {"annee": 2009.56, "rendement": 202},
      {"annee": 2009.6, "rendement": 207}, {"annee": 2009.64, "rendement": 209}, {"annee": 2009.69, "rendement": 221}, {"annee": 2009.73, "rendement": 224},
      {"annee": 2009.77, "rendement": 224}, {"annee": 2009.81, "rendement": 226}, {"annee": 2009.83, "rendement": 231}, {"annee": 2009.87, "rendement": 240},
      {"annee": 2009.9, "rendement": 238}, {"annee": 2009.94, "rendement": 233}, {"annee": 2009.98, "rendement": 221}, {"annee": 2010.02, "rendement": 216},
      {"annee": 2010.07, "rendement": 212}, {"annee": 2010.11, "rendement": 204}, {"annee": 2010.15, "rendement": 200}, {"annee": 2010.17, "rendement": 185},
      {"annee": 2010.19, "rendement": 169}, {"annee": 2010.24, "rendement": 145}, {"annee": 2010.28, "rendement": 142}, {"annee": 2010.32, "rendement": 138},
      {"annee": 2010.36, "rendement": 133}, {"annee": 2010.41, "rendement": 128}, {"annee": 2010.45, "rendement": 135}, {"annee": 2010.49, "rendement": 138},
      {"annee": 2010.53, "rendement": 130}, {"annee": 2010.58, "rendement": 126}, {"annee": 2010.62, "rendement": 121}, {"annee": 2010.66, "rendement": 114},
      {"annee": 2010.7, "rendement": 104}, {"annee": 2010.75, "rendement": 130}, {"annee": 2010.79, "rendement": 138}, {"annee": 2010.83, "rendement": 140},
      {"annee": 2010.87, "rendement": 140}, {"annee": 2010.94, "rendement": 147}, {"annee": 2011.0, "rendement": 154}, {"annee": 2011.06, "rendement": 159},
      {"annee": 2011.13, "rendement": 164}, {"annee": 2011.17, "rendement": 178}, {"annee": 2011.21, "rendement": 190}, {"annee": 2011.25, "rendement": 200},
      {"annee": 2011.3, "rendement": 221}, {"annee": 2011.34, "rendement": 207}, {"annee": 2011.38, "rendement": 197}, {"annee": 2011.42, "rendement": 190},
      {"annee": 2011.47, "rendement": 209}, {"annee": 2011.51, "rendement": 216}, {"annee": 2011.55, "rendement": 214}, {"annee": 2011.61, "rendement": 242},
      {"annee": 2011.65, "rendement": 224}, {"annee": 2011.72, "rendement": 184}, {"annee": 2011.8, "rendement": 204}, {"annee": 2011.86, "rendement": 234},
      {"annee": 2011.91, "rendement": 218}, {"annee": 2011.97, "rendement": 190}, {"annee": 2012.03, "rendement": 212}, {"annee": 2012.08, "rendement": 172},
      {"annee": 2012.14, "rendement": 186}, {"annee": 2012.2, "rendement": 162}, {"annee": 2012.27, "rendement": 156}, {"annee": 2012.35, "rendement": 148},
      {"annee": 2012.42, "rendement": 136}, {"annee": 2012.48, "rendement": 160}, {"annee": 2012.51, "rendement": 192}, {"annee": 2012.56, "rendement": 134},
      {"annee": 2012.61, "rendement": 172}, {"annee": 2012.67, "rendement": 186}, {"annee": 2012.73, "rendement": 168}, {"annee": 2012.82, "rendement": 168},
      {"annee": 2012.9, "rendement": 162}, {"annee": 2012.99, "rendement": 154}, {"annee": 2013.07, "rendement": 148}, {"annee": 2013.16, "rendement": 140},
      {"annee": 2013.2, "rendement": 124}, {"annee": 2013.28, "rendement": 130}, {"annee": 2013.37, "rendement": 114}, {"annee": 2013.45, "rendement": 116},
      {"annee": 2013.54, "rendement": 96}, {"annee": 2013.62, "rendement": 110}, {"annee": 2013.71, "rendement": 120}, {"annee": 2013.79, "rendement": 132},
      {"annee": 2013.83, "rendement": 146}, {"annee": 2013.88, "rendement": 126}, {"annee": 2013.96, "rendement": 120}, {"annee": 2014.05, "rendement": 116},
      {"annee": 2014.11, "rendement": 130}, {"annee": 2014.17, "rendement": 120}, {"annee": 2014.26, "rendement": 118}, {"annee": 2014.34, "rendement": 112},
      {"annee": 2014.43, "rendement": 124}, {"annee": 2014.51, "rendement": 132}, {"annee": 2014.6, "rendement": 124}, {"annee": 2014.68, "rendement": 114},
      {"annee": 2014.77, "rendement": 110}, {"annee": 2014.85, "rendement": 120}, {"annee": 2014.94, "rendement": 132}, {"annee": 2014.98, "rendement": 138},
      {"annee": 2015.04, "rendement": 116}, {"annee": 2015.11, "rendement": 100}, {"annee": 2015.15, "rendement": 94}, {"annee": 2015.19, "rendement": 80},
      {"annee": 2015.28, "rendement": 68}, {"annee": 2015.36, "rendement": 82}, {"annee": 2015.42, "rendement": 60}, {"annee": 2015.49, "rendement": 72},
      {"annee": 2015.57, "rendement": 80}, {"annee": 2015.66, "rendement": 104}, {"annee": 2015.74, "rendement": 110}, {"annee": 2015.83, "rendement": 88},
      {"annee": 2015.87, "rendement": 78}, {"annee": 2015.95, "rendement": 106}, {"annee": 2016.04, "rendement": 108}, {"annee": 2016.12, "rendement": 104},
      {"annee": 2016.19, "rendement": 84}, {"annee": 2016.25, "rendement": 100}, {"annee": 2016.33, "rendement": 114}, {"annee": 2016.42, "rendement": 128},
      {"annee": 2016.46, "rendement": 136}, {"annee": 2016.53, "rendement": 124}, {"annee": 2016.57, "rendement": 114},
      {"annee": 2016.6, "rendement": 0}, {"annee": 2016.7, "rendement": 0}, {"annee": 2016.8, "rendement": 0}, {"annee": 2016.9, "rendement": 0},
      {"annee": 2017.0, "rendement": 0}, {"annee": 2017.1, "rendement": 0}, {"annee": 2017.2, "rendement": 0}, {"annee": 2017.3, "rendement": 0},
      {"annee": 2017.4, "rendement": 0}, {"annee": 2017.5, "rendement": 0}, {"annee": 2017.6, "rendement": 0}, {"annee": 2017.7, "rendement": 0},
      {"annee": 2017.8, "rendement": 0}, {"annee": 2017.9, "rendement": 0}, {"annee": 2018.0, "rendement": 0}, {"annee": 2018.1, "rendement": 0},
      {"annee": 2018.2, "rendement": 0}, {"annee": 2018.3, "rendement": 0}, {"annee": 2018.4, "rendement": 0}, {"annee": 2018.5, "rendement": 0},
      {"annee": 2018.6, "rendement": 0}, {"annee": 2018.7, "rendement": 0}, {"annee": 2018.8, "rendement": 0}, {"annee": 2018.9, "rendement": 0},
      {"annee": 2019.0, "rendement": 0}, {"annee": 2019.1, "rendement": 0}, {"annee": 2019.2, "rendement": 0}, {"annee": 2019.3, "rendement": 0},
      {"annee": 2019.4, "rendement": 0}, {"annee": 2019.5, "rendement": 0}, {"annee": 2019.6, "rendement": 0}, {"annee": 2019.7, "rendement": 0},
      {"annee": 2019.8, "rendement": 0}, {"annee": 2019.9, "rendement": 0}, {"annee": 2020.0, "rendement": 0}, {"annee": 2020.1, "rendement": 0},
      {"annee": 2020.2, "rendement": 0}, {"annee": 2020.3, "rendement": 0}, {"annee": 2020.4, "rendement": 0}, {"annee": 2020.5, "rendement": 0},
      {"annee": 2020.6, "rendement": 0}, {"annee": 2020.7, "rendement": 0}, {"annee": 2020.8, "rendement": 0}, {"annee": 2020.9, "rendement": 0},
      {"annee": 2021.0, "rendement": 0}, {"annee": 2021.1, "rendement": 0}, {"annee": 2021.2, "rendement": 0}, {"annee": 2021.3, "rendement": 0},
      {"annee": 2021.4, "rendement": 0}, {"annee": 2021.5, "rendement": 0}, {"annee": 2021.6, "rendement": 0}, {"annee": 2021.7, "rendement": 0},
      {"annee": 2021.8, "rendement": 0}, {"annee": 2021.9, "rendement": 0}, {"annee": 2022.0, "rendement": 0}, {"annee": 2022.1, "rendement": 0},
      {"annee": 2022.2, "rendement": 0}, {"annee": 2022.3, "rendement": 0}, {"annee": 2022.4, "rendement": 0}, {"annee": 2022.5, "rendement": 0},
      {"annee": 2022.6, "rendement": 0}, {"annee": 2022.7, "rendement": 0}, {"annee": 2022.8, "rendement": 0}, {"annee": 2022.9, "rendement": 0},
      {"annee": 2022.97, "rendement": 0}
    ]
  },
  "vconcat": [
    {
      "width": 2216,
      "height": 55,
      "view": {"fill": "#7DC97D", "stroke": null},
      "data": {"values": [{}]},
      "mark": {"type": "text", "font": "Lato", "fontSize": 33, "fontWeight": "bold", "color": "#000000"},
      "encoding": {
        "text": {"value": "ADAM Informe. Evolution historique des performances en euros pour des détentions de 4 ans (A04) à 10 ans (A10) avec les revenus connus distribués"}
      }
    },
    {
      "width": 2141,
      "height": 983,
      "view": {"stroke": null},
      "title": {
        "text": [
          "Rendement du placement Eagle Financial Services Inc en fonction de la date de début pour des durées",
          "entre 4 (A04) et 10 ans (A10). Cotations entre juil. 2001 et juil. 2026. Revenus DISTRIBUES depuis juil. 2003."
        ],
        "orient": "top",
        "anchor": "middle",
        "frame": "group",
        "baseline": "top",
        "offset": -108,
        "dx": 35,
        "font": "Lato",
        "fontSize": 27,
        "fontWeight": "normal",
        "color": "#595959",
        "lineHeight": 47
      },
      "encoding": {
        "x": {
          "field": "annee",
          "type": "quantitative",
          "scale": {"domain": [1995.778, 2023.04], "nice": false, "zero": false},
          "axis": {
            "values": [1997, 1999, 2001, 2003, 2005, 2007, 2009, 2011, 2013, 2015, 2017, 2019, 2021],
            "labelExpr": "'01/01/' + datum.value",
            "title": null, "grid": false, "domain": false, "ticks": false, "tickSize": 0,
            "labelPadding": 28, "labelFontSize": 20, "labelColor": "#595959", "labelFont": "Lato",
            "labelFlush": false, "labelOverlap": false
          }
        },
        "y": {
          "field": "rendement",
          "type": "quantitative",
          "scale": {"domain": [-100, 374.6], "nice": false, "zero": false},
          "axis": {
            "values": [-100, -50, 0, 50, 100, 150, 200, 250, 300, 350],
            "labelExpr": "datum.value < 0 ? '- ' + abs(datum.value) + '%' : datum.value + '%'",
            "title": null, "grid": false, "domain": false, "ticks": false, "tickSize": 0,
            "offset": -96, "labelPadding": 18, "labelFontSize": 20, "labelColor": "#595959", "labelFont": "Lato"
          }
        }
      },
      "layer": [
        {
          "data": {"name": "grille_h"},
          "mark": {"type": "rule", "color": "#D9D9D9", "strokeWidth": 2},
          "encoding": {"x2": {"field": "annee2"}}
        },
        {
          "data": {"name": "grille_v"},
          "mark": {"type": "rule", "color": "#D9D9D9", "strokeWidth": 2},
          "encoding": {"y2": {"field": "rendement2"}}
        },
        {
          "data": {"name": "axe_v"},
          "mark": {"type": "rule", "color": "#BFBFBF", "strokeWidth": 2.5},
          "encoding": {"y2": {"field": "rendement2"}}
        },
        {
          "data": {"name": "axe_h"},
          "mark": {"type": "rule", "color": "#BFBFBF", "strokeWidth": 2.5},
          "encoding": {"x2": {"field": "annee2"}}
        },
        {
          "data": {"name": "a04"},
          "mark": {"type": "point", "filled": false, "size": 169, "strokeWidth": 2.3, "opacity": 1},
          "encoding": {
            "color": {
              "datum": "Rendement_A04",
              "type": "nominal",
              "scale": {
                "domain": ["Rendement_A04", "Rendement_A07", "Rendement_A10", "0,0%"],
                "range": ["#FFC000", "#0070C0", "#FF0000", "#000000"]
              },
              "legend": {
                "orient": "none", "legendX": 1755, "legendY": 171, "title": null,
                "padding": 40, "rowPadding": 35,
                "symbolSize": 42, "symbolStrokeWidth": 1.8, "symbolOffset": 23, "labelOffset": 10,
                "labelFont": "Lato", "labelFontSize": 29, "labelColor": "#595959", "labelLimit": 400
              }
            },
            "shape": {
              "datum": "Rendement_A04",
              "type": "nominal",
              "scale": {
                "domain": ["Rendement_A04", "Rendement_A07", "Rendement_A10", "0,0%"],
                "range": ["M-1,0L1,0M0,-1L0,1", "M-1,0L1,0M0,-1L0,1", "M-1,0L1,0M0,-1L0,1", "M-7.6,-0.5L7.6,-0.5M-7.6,0L7.6,0M-7.6,0.5L7.6,0.5"]
              },
              "legend": {
                "orient": "none", "legendX": 1755, "legendY": 171, "title": null,
                "padding": 40, "rowPadding": 35,
                "symbolSize": 42, "symbolStrokeWidth": 1.8, "symbolOffset": 23, "labelOffset": 10,
                "labelFont": "Lato", "labelFontSize": 29, "labelColor": "#595959", "labelLimit": 400
              }
            }
          }
        },
        {
          "data": {"name": "a07"},
          "mark": {"type": "point", "filled": false, "size": 169, "strokeWidth": 3.1, "opacity": 1},
          "encoding": {
            "color": {"datum": "Rendement_A07", "type": "nominal"},
            "shape": {"datum": "Rendement_A07", "type": "nominal"}
          }
        },
        {
          "data": {"name": "a10"},
          "mark": {"type": "point", "filled": false, "size": 169, "strokeWidth": 3.1, "opacity": 1},
          "encoding": {
            "color": {"datum": "Rendement_A10", "type": "nominal"},
            "shape": {"datum": "Rendement_A10", "type": "nominal"}
          }
        },
        {
          "data": {"name": "zero"},
          "mark": {"type": "line", "color": "#000000", "strokeWidth": 5},
          "encoding": {}
        }
      ]
    }
  ]
}
